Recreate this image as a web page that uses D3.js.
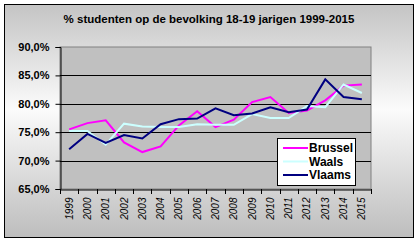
<!DOCTYPE html>
<html>
<head>
<meta charset="utf-8">
<script src="https://cdn.jsdelivr.net/npm/d3@7/dist/d3.min.js"></script>
<style>
  body { margin: 0; background: #fff; }
  svg { display: block; font-family: "Liberation Sans", Arial, sans-serif; }
</style>
</head>
<body>
<div id="chart"></div>
<script>
const years = ['1999','2000','2001','2002','2003','2004','2005','2006','2007','2008',
               '2009','2010','2011','2012','2013','2014','2015'];
const brussel = [75.5, 76.6, 77.1, 73.2, 71.5, 72.5, 76.2, 78.7, 75.9, 77.2, 80.3, 81.2, 78.4, 78.8, 80.6, 83.2, 83.4];
const waals   = [75.2, 75.2, 72.8, 76.5, 76.0, 75.9, 75.9, 76.4, 76.3, 76.3, 78.2, 77.5, 77.5, 79.6, 79.4, 83.4, 81.9];
const vlaams  = [72.0, 74.7, 73.1, 74.5, 73.9, 76.4, 77.3, 77.4, 79.2, 78.0, 78.3, 79.4, 78.5, 79.0, 84.3, 81.2, 80.8];
const yTicks = [65, 70, 75, 80, 85, 90];

const series = [
  { name: 'Brussel', values: brussel, color: '#ff00ff' },
  { name: 'Waals', values: waals, color: '#ccffff' },
  { name: 'Vlaams', values: vlaams, color: '#000080' }
];

function createVisualization() {
  const width = 419, height = 243;
  const plot = { left: 60, right: 371, top: 47, bottom: 189 };

  const svg = d3.select('#chart').append('svg')
    .attr('width', width)
    .attr('height', height);

  // vertical gradient of the chart area
  const grad = svg.append('defs').append('linearGradient')
    .attr('id', 'bg').attr('x1', 0).attr('y1', 0).attr('x2', 0).attr('y2', 1);
  grad.append('stop').attr('offset', '0%').attr('stop-color', '#c4c4c4');
  grad.append('stop').attr('offset', '45%').attr('stop-color', '#fbfbfb');
  grad.append('stop').attr('offset', '100%').attr('stop-color', '#bdbdbd');

  svg.append('rect')
    .attr('x', 4.5).attr('y', 4.5)
    .attr('width', 409).attr('height', 233)
    .attr('fill', 'url(#bg)')
    .attr('stroke', '#000').attr('stroke-width', 1);

  svg.append('text')
    .attr('x', 209).attr('y', 23)
    .attr('text-anchor', 'middle')
    .attr('font-size', '11.5px').attr('font-weight', 'bold')
    .text('% studenten op de bevolking 18-19 jarigen 1999-2015');

  const x = d3.scaleBand()
    .domain(years)
    .range([plot.left, plot.right]);

  const y = d3.scaleLinear()
    .domain([65, 90])
    .range([plot.bottom, plot.top]);

  // plot area
  svg.append('rect')
    .attr('x', plot.left).attr('y', plot.top)
    .attr('width', plot.right - plot.left).attr('height', plot.bottom - plot.top)
    .attr('fill', '#c0c0c0')
    .attr('stroke', '#808080').attr('stroke-width', 1);

  // gridlines
  svg.append('g')
    .selectAll('line')
    .data(yTicks.slice(1, -1))
    .join('line')
    .attr('x1', plot.left).attr('x2', plot.right)
    .attr('y1', d => Math.round(y(d)) + 0.5).attr('y2', d => Math.round(y(d)) + 0.5)
    .attr('stroke', '#000').attr('stroke-width', 1);

  // y axis
  const yAxis = d3.axisLeft(y)
    .tickValues(yTicks)
    .tickSize(5)
    .tickPadding(6)
    .tickFormat(d => d3.format('.1f')(d).replace('.', ',') + '%');

  const gy = svg.append('g')
    .attr('transform', `translate(${plot.left + 0.5},0)`)
    .call(yAxis);
  gy.select('.domain').attr('stroke', '#000');
  gy.selectAll('text')
    .attr('font-size', '11px').attr('font-weight', 'bold')
    .attr('fill', '#000')
    .attr('font-family', '"Liberation Sans", Arial, sans-serif');

  // x axis, ticks on band edges
  const xAxis = d3.axisBottom(x).tickSize(0).tickPadding(0);
  const gx = svg.append('g')
    .attr('transform', `translate(0,${plot.bottom + 0.5})`)
    .call(xAxis);
  gx.select('.domain').attr('stroke', '#000');
  gx.selectAll('.tick text')
    .attr('transform', 'rotate(-90)')
    .attr('x', -8).attr('y', 0).attr('dy', '0.35em')
    .style('text-anchor', 'end')
    .attr('font-size', '10px')
    .attr('font-style', 'italic')
    .attr('fill', '#000')
    .attr('font-family', '"Liberation Sans", Arial, sans-serif');

  svg.append('g')
    .selectAll('line')
    .data(years.concat(['end']))
    .join('line')
    .attr('x1', (d, i) => Math.round(plot.left + i * x.bandwidth()) + 0.5)
    .attr('x2', (d, i) => Math.round(plot.left + i * x.bandwidth()) + 0.5)
    .attr('y1', plot.bottom).attr('y2', plot.bottom + 5)
    .attr('stroke', '#000');

  // lines
  const line = d3.line()
    .x((d, i) => x(years[i]) + x.bandwidth() / 2)
    .y(d => y(d));

  svg.append('g')
    .selectAll('path')
    .data(series)
    .join('path')
    .attr('d', d => line(d.values))
    .attr('fill', 'none')
    .attr('stroke', d => d.color)
    .attr('stroke-width', 2);

  // legend
  const lg = svg.append('g').attr('transform', 'translate(277,138)');
  lg.append('rect')
    .attr('x', 0.5).attr('y', 0.5)
    .attr('width', 78).attr('height', 47)
    .attr('fill', '#fff')
    .attr('stroke', '#000');

  const item = lg.selectAll('.item')
    .data(series)
    .join('g')
    .attr('class', 'item')
    .attr('transform', (d, i) => `translate(0,${10 + i * 13.5})`);

  item.append('line')
    .attr('x1', 6).attr('x2', 31)
    .attr('y1', 0).attr('y2', 0)
    .attr('stroke', d => d.color)
    .attr('stroke-width', 2);

  item.append('text')
    .attr('x', 32).attr('y', 0).attr('dy', '0.36em')
    .attr('font-size', '12px').attr('font-weight', 'bold')
    .text(d => d.name);
}

createVisualization();
</script>
</body>
</html>
